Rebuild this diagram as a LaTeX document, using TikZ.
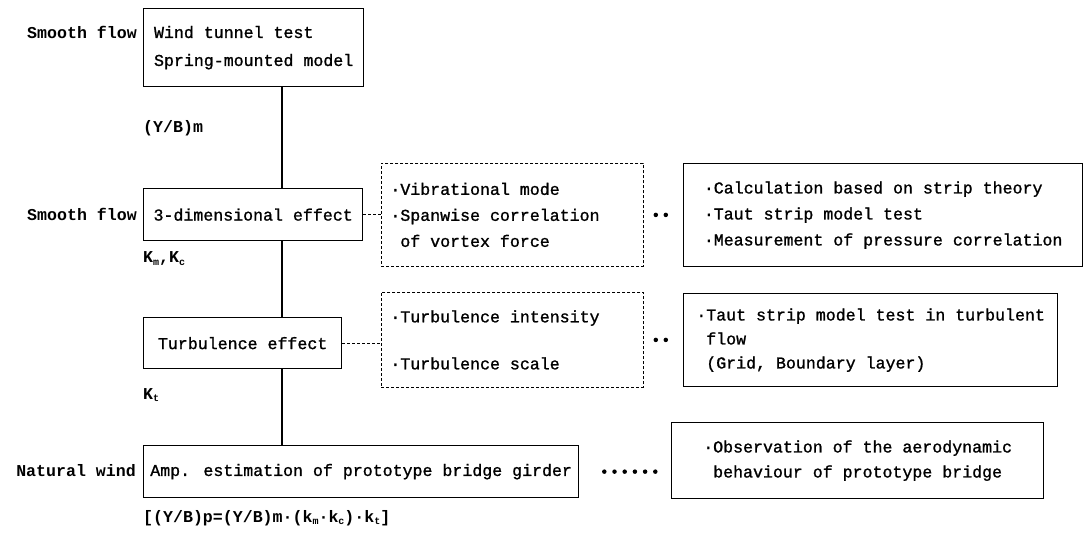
\documentclass[tikz,border=0pt]{standalone}
\usepackage{fontspec}
\setmonofont{Liberation Mono}
\newfontfamily\boxfont{Liberation Mono}[FakeBold=1.2]
\usetikzlibrary{positioning}
\newcommand\lowsub[1]{\raisebox{-0.3ex}{\fontsize{10}{10}\selectfont #1}}

\begin{document}
\begin{tikzpicture}[x=1pt,y=-1pt,
% Box styles
    box/.style={rectangle,draw,line width=1.3pt,anchor=north west,inner sep=0pt,
		font=\boxfont\fontsize{16.6}{26}\selectfont,align=left},
    dbox/.style={box,line width=0.8pt,dash pattern=on 3pt off 2pt,inner xsep=9pt,
		execute at begin node={\spaceskip=\fontdimen2\font\xspaceskip=\fontdimen2\font}},
% Label style
    side/.style={font=\ttfamily\bfseries\fontsize{16.6}{20}\selectfont,inner sep=0pt},
    sub/.style={side,anchor=west},
% Connector style
    spine/.style={line width=1.3pt},
    dlink/.style={line width=0.8pt,dash pattern=on 3pt off 2pt},
    dots/.style={line width=4.5pt,line cap=round}
    ]
  \useasboundingbox (0,0) rectangle (1090,534);

% Main chain
  \node (b1) [box,minimum width=220pt,minimum height=78pt,
	font=\boxfont\fontsize{16.6}{28}\selectfont] at (143,8)
	{Wind tunnel test\\Spring-mounted model};
  \node (b2) [box,minimum width=219pt,minimum height=52pt] at (143,188)
	{3-dimensional effect};
  \node (b3) [box,minimum width=198pt,minimum height=51pt] at (143,317)
	{Turbulence effect};
  \node (b4) [box,minimum width=435pt,minimum height=52pt] at (143,445)
	{Amp. estimation of prototype bridge girder};

% Flow conditions
  \node (s1) [side,anchor=east] at (137,32) {Smooth flow};
  \node (s2) [side,anchor=east] at (137,214) {Smooth flow};
  \node (s3) [side,anchor=east] at (136,471) {Natural wind};

% Factors
  \node (ym) [sub] at (143,128) {(Y/B)m};
  \node (kmc) [sub] at (143,259) {K\lowsub{m},K\lowsub{c}};
  \node (kt) [sub] at (143,395) {K\lowsub{t}};
  \node (fm) [sub] at (143,518)
	{[(Y/B)p=(Y/B)m·(k\lowsub{m}·k\lowsub{c})·k\lowsub{t}]};

% Items and methods
  \node (d1) [dbox,text width=244pt,minimum height=103pt] at (381,163)
	{·Vibrational mode\\·Spanwise correlation\\\hphantom{·}of vortex force};
  \node (d2) [dbox,text width=244pt,minimum height=95pt] at (381,292)
	{·Turbulence intensity\\[21pt]·Turbulence scale};
  \node (r1) [box,minimum width=399pt,minimum height=103pt] at (683,163)
	{·Calculation based on strip theory\\·Taut strip model test\\·Measurement of pressure correlation};
  \node (r2) [box,minimum width=374pt,minimum height=93pt,
	font=\boxfont\fontsize{16.6}{24}\selectfont] at (683,293)
	{·Taut strip model test in turbulent\\\hphantom{·}flow\\\hphantom{·}(Grid, Boundary layer)};
  \node (r3) [box,minimum width=372pt,minimum height=76pt,
	font=\boxfont\fontsize{16.6}{25}\selectfont] at (671,422)
	{·Observation of the aerodynamic\\\hphantom{·}behaviour of prototype bridge};

% Connectors
  \coordinate (sp) at (282,0);
  \draw[spine] (b1.south -| sp) -- (b2.north -| sp);
  \draw[spine] (b2.south -| sp) -- (b3.north -| sp);
  \draw[spine] (b3.south -| sp) -- (b4.north -| sp);
  \draw[dlink] (b2.east) -- (b2.east -| d1.west);
  \draw[dlink] (b3.east) -- (b3.east -| d2.west);
  \draw[dots,dash pattern=on 0pt off 10pt,shorten <=12pt,shorten >=17pt] (d1.east) -- (d1.east -| r1.west);
  \draw[dots,dash pattern=on 0pt off 10pt,shorten <=12pt,shorten >=17pt] (d2.east) -- (d2.east -| r2.west);
  \draw[dots,dash pattern=on 0pt off 10.2pt,shorten <=25pt,shorten >=14pt] (b4.east) -- (b4.east -| r3.west);

\end{tikzpicture}
\end{document}
